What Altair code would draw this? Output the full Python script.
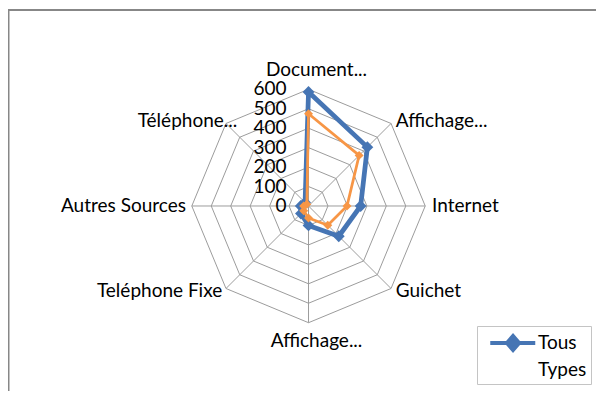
import altair as alt
import pandas as pd

# ---------------- data ----------------
categories = ["Document...", "Affichage...", "Internet", "Guichet",
              "Affichage...", "Teléphone Fixe", "Autres Sources", "Téléphone..."]
tous_types = [586, 428, 268, 220, 100, 55, 40, 25]
serie_2 = [474, 368, 198, 140, 62, 35, 25, 12]
ring_values = [100, 200, 300, 400, 500, 600]
tick_values = [0, 100, 200, 300, 400, 500, 600]
tick_labels = ["0", "100", "200", "300", "400", "500", "600"]
legend_lines = ["Tous", "Types"]

BLUE = "#4675B4"
ORANGE = "#F79646"
GRID = "#9c9c9c"
FONT = "Lato"
FS = 19

n = len(categories)
ang = f"datum.idx * 2 * PI / {n}"

rows = []
for name, vals in [("Tous Types", tous_types), ("Série 2", serie_2)]:
    for i in range(n + 1):
        rows.append({"series": name, "idx": i % n, "order": i, "value": vals[i % n]})
series_df = pd.DataFrame(rows)

ring_rows = []
for r in ring_values:
    for i in range(n + 1):
        ring_rows.append({"ring": r, "idx": i % n, "order": i, "value": r})
ring_df = pd.DataFrame(ring_rows)

spoke_df = pd.DataFrame({"idx": list(range(n)), "value": [max(ring_values)] * n})
tick_df = pd.DataFrame({"value": tick_values, "label": tick_labels})
label_df = pd.DataFrame({"idx": list(range(n)), "label": categories})

xs = alt.Scale(domain=[-1545, 1478], nice=False, zero=False)
ys = alt.Scale(domain=[-951.2, 1018], nice=False, zero=False)
X = lambda f: alt.X(f, scale=xs, axis=None)
Y = lambda f: alt.Y(f, scale=ys, axis=None)
X2 = lambda f: alt.X2(f)
Y2 = lambda f: alt.Y2(f)


def polar(ch, rexpr="datum.value"):
    return ch.transform_calculate(
        x=f"({rexpr}) * sin({ang})",
        y=f"({rexpr}) * cos({ang})",
    )


grid = polar(alt.Chart(ring_df)).mark_line(color=GRID, strokeWidth=1).encode(
    x=X("x:Q"), y=Y("y:Q"), detail="ring:N", order="order:Q")

spokes = polar(alt.Chart(spoke_df)).transform_calculate(x0="0", y0="0").mark_rule(
    color=GRID, strokeWidth=1).encode(x=X("x0:Q"), y=Y("y0:Q"), x2=X2("x:Q"), y2=Y2("y:Q"))

blue_base = polar(alt.Chart(series_df)).transform_filter("datum.series == 'Tous Types'")
orange_base = polar(alt.Chart(series_df)).transform_filter("datum.series == 'Série 2'")

# legend symbol: a line with a diamond on it (unit = 11 px)
legend_path = ("M-0.34,0L3.75,0"
               "M1.73,-0.64L2.28,0L1.73,0.64L1.18,0Z")

blue_line = blue_base.mark_line(strokeWidth=4.75, strokeJoin="round").encode(
    x=X("x:Q"), y=Y("y:Q"), order="order:Q",
    color=alt.Color("series:N",
                    scale=alt.Scale(domain=["Tous Types"], range=[BLUE]),
                    legend=alt.Legend(
                        orient="none", legendX=469, legendY=318, title=None,
                        symbolType=legend_path, symbolSize=484,
                        symbolStrokeWidth=4, symbolStrokeColor=BLUE,
                        symbolFillColor=BLUE,
                        labelExpr="['" + "','".join(legend_lines) + "']",
                        labelFont=FONT, labelFontSize=FS, labelColor="#000000",
                        labelOffset=31, labelLimit=0,
                        padding=4, strokeColor="#c4c4c4", fillColor="#ffffff",
                        cornerRadius=0,
                    )),
)
blue_pts = blue_base.transform_filter(f"datum.order < {n}").mark_point(
    shape="diamond", filled=True, size=140, opacity=1).encode(
    x=X("x:Q"), y=Y("y:Q"), color=alt.value(BLUE))

orange_line = orange_base.mark_line(strokeWidth=2.75, strokeJoin="round", color=ORANGE).encode(
    x=X("x:Q"), y=Y("y:Q"), order="order:Q")
orange_pts = orange_base.transform_filter(f"datum.order < {n}").mark_point(
    shape="diamond", filled=True, size=80, opacity=1, color=ORANGE).encode(
    x=X("x:Q"), y=Y("y:Q"))

ticks = alt.Chart(tick_df).transform_calculate(x="0").mark_text(
    align="right", baseline="middle", dx=-22, font=FONT, fontSize=FS, color="#000000").encode(
    x=X("x:Q"), y=Y("value:Q"), text="label:N")

lab_r = f"datum.idx % 4 == 0 ? 650 : (datum.idx % 2 == 0 ? 625 : 620)"
lab_base = alt.Chart(label_df).transform_calculate(
    x=f"({lab_r}) * sin({ang})", y=f"({lab_r}) * cos({ang})")
txt = dict(font=FONT, fontSize=FS, color="#000000")


def lab(cond, **kw):
    return lab_base.transform_filter(cond).mark_text(**txt, **kw).encode(
        x=X("x:Q"), y=Y("y:Q"), text="label:N")


lab_n = lab("datum.idx == 0", align="center", baseline="bottom", dx=8)
lab_s = lab(f"datum.idx == {n // 2}", align="center", baseline="top", dx=8)
lab_r_side = lab(f"datum.idx > 0 && datum.idx < {n // 2}", align="left", baseline="middle", dx=2)
lab_l_side = lab(f"datum.idx > {n // 2} && datum.idx < {n - 1}", align="right",
                 baseline="middle", dx=-1)
lab_nw = lab(f"datum.idx == {n - 1}", align="right", baseline="middle", dx=14)

frame_df = pd.DataFrame({"k": [0]})
frame_left = alt.Chart(frame_df).mark_rule(color="#878787", strokeWidth=2).encode(
    x=alt.value(0.5), y=alt.value(2), y2=alt.value(383))
frame_top = alt.Chart(frame_df).mark_rule(color="#878787", strokeWidth=2).encode(
    y=alt.value(2), x=alt.value(0), x2=alt.value(588))

chart = alt.layer(
    frame_left, frame_top, grid, spokes, ticks,
    lab_n, lab_s, lab_r_side, lab_l_side, lab_nw,
    blue_line, blue_pts, orange_line, orange_pts,
).properties(
    width=588, height=383, padding=0,
    autosize=alt.AutoSizeParams(type="none"),
    background="#ffffff",
).configure(style={"guide-label": {"lineHeight": 27}}).configure_view(stroke=None)

chart.save("out.html", embed_options={"renderer": "svg", "actions": False})
